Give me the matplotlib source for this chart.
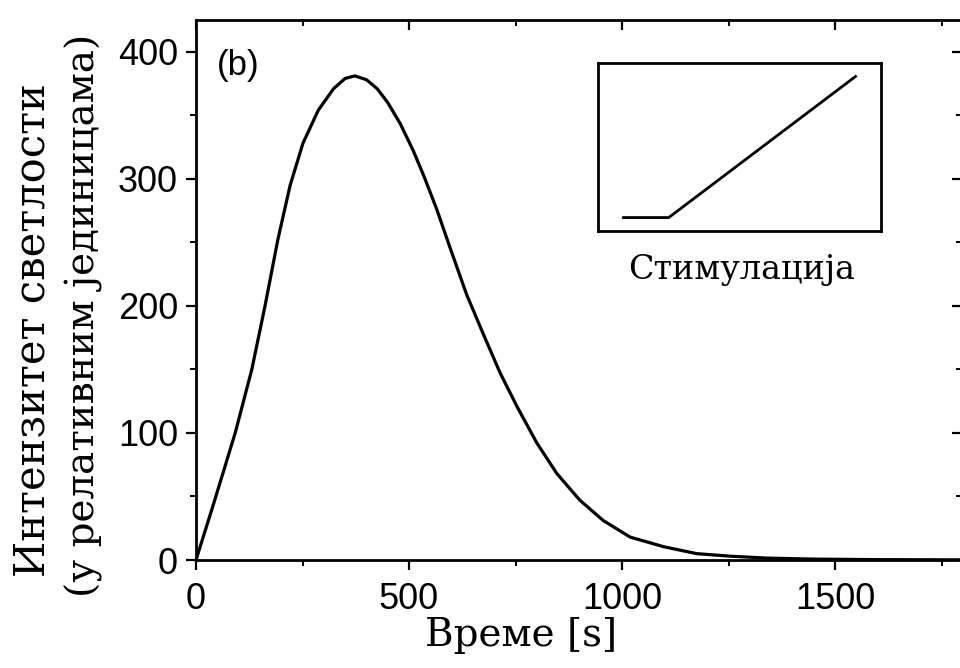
import matplotlib
matplotlib.use("Agg")
import matplotlib.pyplot as plt
from matplotlib.ticker import MultipleLocator

# Light intensity vs. time under linearly ramped stimulation
time_s = [0, 42, 92, 131, 162, 192, 221, 251, 287, 323, 350, 373, 400,
          425, 450, 480, 510, 535, 565, 596, 635, 674, 714, 753, 800,
          847, 901, 956, 1019, 1097, 1175, 1254, 1340, 1450, 1600, 1800]
intensity = [0, 45, 100, 150, 200, 252, 295, 328, 354, 371, 379, 381, 378,
             371, 360, 343, 322, 302, 276, 246, 209, 178, 147, 121, 92,
             68, 47, 31, 18, 10.5, 5, 3, 1.5, 0.7, 0.3, 0.1]

# Stimulation profile (relative units): flat, then a linear ramp
stim_time = [0.09, 0.25, 0.91]
stim_level = [0.08, 0.08, 0.92]

x_ticks = [0, 500, 1000, 1500]
y_ticks = [0, 100, 200, 300, 400]

serif = ["DejaVu Serif"]
sans = ["Liberation Sans", "DejaVu Sans"]

fig = plt.figure(figsize=(9.6, 6.68), dpi=100)
ax = fig.add_axes([196 / 960, (668 - 560) / 668, (963 - 196) / 960, 540 / 668])

ax.plot(time_s, intensity, color="black", lw=2.3,
        solid_joinstyle="round", solid_capstyle="round")
ax.set_xlim(0, 1800)
ax.set_ylim(0, 425)

ax.set_xticks(x_ticks)
ax.set_yticks(y_ticks)
ax.xaxis.set_minor_locator(MultipleLocator(250))
ax.yaxis.set_minor_locator(MultipleLocator(50))
for lab in ax.get_xticklabels() + ax.get_yticklabels():
    lab.set_family(sans)
    lab.set_fontsize(26)
ax.tick_params(which="major", direction="out", length=7, width=1.6, pad=6)
ax.tick_params(axis="x", which="major", pad=9)
ax.tick_params(which="minor", direction="out", length=4, width=1.4)
for sp in ax.spines.values():
    sp.set_linewidth(2.0)

# mirrored inward ticks on top and right
top = ax.secondary_xaxis("top")
top.set_xticks(x_ticks)
top.xaxis.set_minor_locator(MultipleLocator(250))
top.tick_params(which="major", direction="in", length=7, width=1.6, labeltop=False)
top.tick_params(which="minor", direction="in", length=4, width=1.4)
right = ax.secondary_yaxis("right")
right.set_yticks(y_ticks)
right.yaxis.set_minor_locator(MultipleLocator(50))
right.tick_params(which="major", direction="in", length=8, width=1.6, labelright=False)
right.tick_params(which="minor", direction="in", length=5, width=1.4)

ax.text(0.027, 0.915, "(b)", family=sans, fontsize=25, transform=ax.transAxes,
        va="center", ha="left")

fig.text(521 / 960, 1 - 636 / 668, "Време [s]", family=serif, fontsize=28,
         ha="center", va="center")
fig.text(33 / 960, 1 - 330 / 668, "Интензитет светлости", family=serif,
         fontsize=30, rotation=90, ha="center", va="center")
fig.text(84 / 960, 1 - 315 / 668, "(у релативним јединицама)", family=serif,
         fontsize=28, rotation=90, ha="center", va="center")

# inset: stimulation profile
ins = fig.add_axes([598 / 960, (668 - 231) / 668, 283 / 960, 168 / 668])
ins.plot(stim_time, stim_level, color="black", lw=2.0)
ins.set_xlim(0, 1)
ins.set_ylim(0, 1)
ins.set_xticks([])
ins.set_yticks([])
for sp in ins.spines.values():
    sp.set_linewidth(2.0)
fig.text(742 / 960, 1 - 270 / 668, "Стимулација", family=serif, fontsize=24,
         ha="center", va="center")

fig.savefig("out.png", dpi=100)
